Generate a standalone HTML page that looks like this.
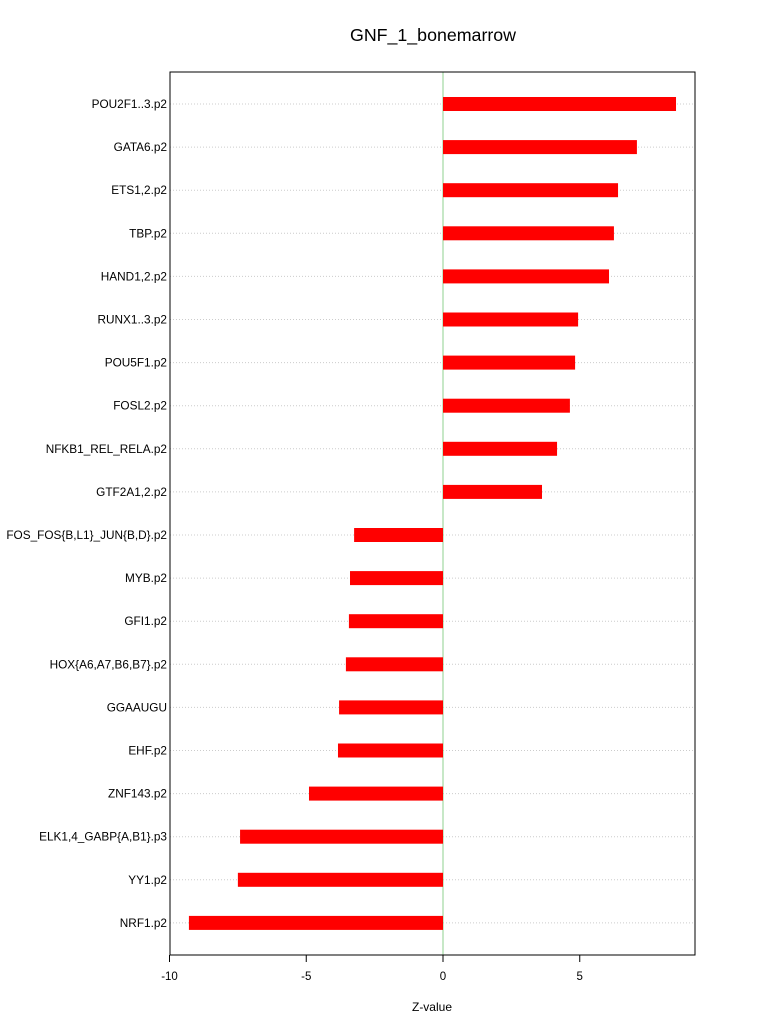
<!DOCTYPE html>
<html><head><meta charset="utf-8"><style>
body{margin:0;background:#fff;}
svg{display:block;font-family:"Liberation Sans",Arial,sans-serif;}
</style></head><body>
<svg id="chart" width="768" height="1028">
<rect width="768" height="1028" fill="#fff"/>
<text x="433" y="41" text-anchor="middle" font-size="17.8">GNF_1_bonemarrow</text>
<g id="grid"></g>
<g id="bars"></g>
<g id="labels"></g>
<g id="xaxis"></g>
<rect x="170" y="72" width="525" height="883" fill="none" stroke="#000" stroke-width="1"/>
<text x="432" y="1011" text-anchor="middle" font-size="12">Z-value</text>
</svg>
<script>
const categories=["POU2F1..3.p2","GATA6.p2","ETS1,2.p2","TBP.p2","HAND1,2.p2","RUNX1..3.p2","POU5F1.p2","FOSL2.p2","NFKB1_REL_RELA.p2","GTF2A1,2.p2","FOS_FOS{B,L1}_JUN{B,D}.p2","MYB.p2","GFI1.p2","HOX{A6,A7,B6,B7}.p2","GGAAUGU","EHF.p2","ZNF143.p2","ELK1,4_GABP{A,B1}.p3","YY1.p2","NRF1.p2"];
const values=[8.52,7.09,6.40,6.25,6.07,4.94,4.83,4.64,4.17,3.62,-3.25,-3.40,-3.44,-3.55,-3.80,-3.84,-4.90,-7.42,-7.50,-9.29];
const xTicks=[-10,-5,0,5];
const NS="http://www.w3.org/2000/svg";
const x=v=>443+v*27.35;
const y=i=>104+i*43.1;
function mk(tag,attrs,parent){const e=document.createElementNS(NS,tag);for(const k in attrs)e.setAttribute(k,attrs[k]);document.getElementById(parent).appendChild(e);return e;}
categories.forEach((c,i)=>{
  const g=mk("line",{x1:170,x2:695,y1:y(i),y2:y(i),stroke:"#ccc","stroke-dasharray":"1,2"},"grid");
  
  
});
const zl=mk("line",{x1:x(0),x2:x(0),y1:72,y2:955,stroke:"#8fd18f"},"grid");


values.forEach((v,i)=>{
  const b=mk("rect",{x:Math.min(x(0),x(v)),y:y(i)-7,width:Math.abs(x(v)-x(0)),height:14,fill:"#ff0000"},"bars");
  
  
  const t=mk("text",{x:167,y:y(i)+4,"text-anchor":"end","font-size":"11.8"},"labels");
  t.textContent=categories[i];
  
  
});
xTicks.forEach(v=>{
  const l=mk("line",{x1:x(v),x2:x(v),y1:955,y2:962,stroke:"#000"},"xaxis");
  
  
  const t=mk("text",{x:x(v),y:980,"text-anchor":"middle","font-size":"11.5"},"xaxis");
  t.textContent=v;
  
  
});
</script>
</body></html>
